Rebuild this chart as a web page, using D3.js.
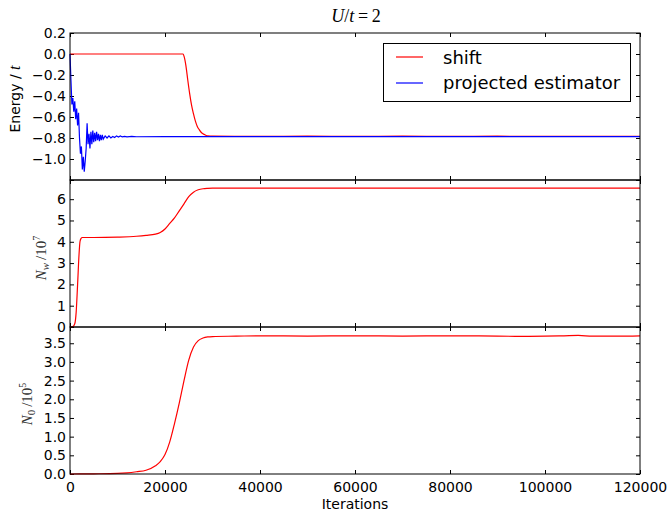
<!DOCTYPE html>
<html>
<head>
<meta charset="utf-8">
<script src="https://cdn.jsdelivr.net/npm/d3@7"></script>
<style>
  body { margin: 0; background: #fff; }
  svg text { font-family: "DejaVu Sans", sans-serif; }
  .math { font-family: "Liberation Serif", "DejaVu Serif", serif; }
</style>
</head>
<body>
<div id="chart"></div>
<script>
// values
const shiftIter = [0, 23800, 24000, 24400, 24800, 25200, 25600, 26000, 26400, 26800, 27200, 27600, 28000, 28500, 29000, 30000, 40000, 50000, 60000, 70000, 80000, 90000, 100000, 110000, 120000];
const shiftE = [0, 0, -0.02, -0.11, -0.25, -0.38, -0.49, -0.57, -0.64, -0.69, -0.72, -0.745, -0.76, -0.772, -0.78, -0.783, -0.784, -0.783, -0.784, -0.783, -0.784, -0.783, -0.784, -0.785, -0.784];

const projIter = [0, 200, 400, 600, 800, 1000, 1200, 1400, 1600, 1800, 2000, 2200, 2400, 2600, 2800, 3000, 3200, 3400, 3600, 3800, 4000, 4200, 4400, 4600, 4800, 5000, 5200, 5400, 5600, 5800, 6000, 6200, 6400, 6600, 6800, 7000, 7400, 7800, 8200, 8600, 9000, 9400, 9800, 10200, 10600, 11000, 11500, 12000, 13000, 14000, 20000, 30000, 40000, 60000, 80000, 100000, 120000];
const projE = [0, -0.25, -0.48, -0.42, -0.55, -0.45, -0.62, -0.52, -0.68, -0.56, -0.80, -0.95, -0.88, -1.10, -0.98, -1.12, -1.02, -0.90, -0.66, -0.86, -0.76, -0.90, -0.74, -0.86, -0.73, -0.84, -0.75, -0.83, -0.74, -0.82, -0.76, -0.83, -0.77, -0.82, -0.77, -0.81, -0.78, -0.80, -0.78, -0.80, -0.785, -0.795, -0.78, -0.79, -0.78, -0.79, -0.785, -0.79, -0.785, -0.788, -0.787, -0.787, -0.786, -0.787, -0.786, -0.787, -0.787];

const nwIter = [0, 600, 1000, 1300, 1600, 1900, 2100, 2300, 2600, 5000, 10000, 14000, 16000, 18000, 19000, 20000, 21000, 22000, 23000, 24000, 25000, 26000, 27000, 28000, 29000, 30000, 50000, 80000, 120000];
const nwVal = [0, 0.02, 0.15, 0.7, 2.0, 3.4, 4.0, 4.15, 4.2, 4.2, 4.22, 4.26, 4.3, 4.36, 4.44, 4.6, 4.86, 5.12, 5.45, 5.78, 6.12, 6.33, 6.44, 6.49, 6.51, 6.52, 6.52, 6.52, 6.52];

const n0Iter = [0, 5000, 10000, 12000, 14000, 16000, 18000, 19000, 20000, 21000, 22000, 23000, 24000, 25000, 26000, 27000, 28000, 29000, 30000, 35000, 40000, 50000, 60000, 70000, 80000, 90000, 95000, 100000, 104000, 107000, 110000, 115000, 120000];
const n0Val = [0, 0.005, 0.015, 0.03, 0.06, 0.1, 0.22, 0.33, 0.52, 0.86, 1.35, 1.9, 2.5, 3.05, 3.4, 3.57, 3.64, 3.67, 3.68, 3.69, 3.70, 3.69, 3.70, 3.69, 3.70, 3.69, 3.685, 3.69, 3.70, 3.71, 3.69, 3.69, 3.70];

const xTicks = [0, 20000, 40000, 60000, 80000, 100000, 120000];
const eTicks = [-1.2, -1.0, -0.8, -0.6, -0.4, -0.2, 0.0, 0.2];
const nwTicks = [0, 1, 2, 3, 4, 5, 6];
const n0Ticks = [0, 0.5, 1.0, 1.5, 2.0, 2.5, 3.0, 3.5];

const width = 672, height = 512;
const left = 70, right = 640;
const panelTops = [33, 180, 327, 474];

const svg = d3.select("#chart").append("svg")
  .attr("width", width).attr("height", height);

const x = d3.scaleLinear().domain([0, 120000]).range([left, right]);

function panel(i, domain, ticks, fmt, showX) {
  const top = panelTops[i], bottom = panelTops[i + 1];
  const y = d3.scaleLinear().domain(domain).range([bottom, top]);
  const g = svg.append("g");
  const tl = 4;
  g.append("g").attr("transform", `translate(${left},0)`)
    .call(d3.axisLeft(y).tickValues(ticks).tickSize(-tl).tickPadding(4).tickFormat(fmt));
  g.append("g").attr("transform", `translate(${right},0)`)
    .call(d3.axisRight(y).tickValues(ticks).tickSize(-tl).tickFormat(""));
  g.append("g").attr("transform", `translate(0,${top})`)
    .call(d3.axisTop(x).tickValues(xTicks).tickSize(-tl).tickFormat(""));
  g.append("g").attr("transform", `translate(0,${bottom})`)
    .call(d3.axisBottom(x).tickValues(xTicks).tickSize(-tl).tickPadding(8)
      .tickFormat(showX ? d3.format("d") : ""));
  g.selectAll(".domain").remove();
  g.selectAll(".tick line").attr("stroke", "#000");
  g.selectAll(".tick text").attr("font-size", 14).attr("fill", "#000")
    .attr("font-family", "DejaVu Sans");
  return {g, y, top, bottom};
}

function drawLine(p, xs, ys, color, curve) {
  const pts = xs.map((v, k) => [v, ys[k]]);
  p.g.append("path").datum(pts)
    .attr("fill", "none").attr("stroke", color).attr("stroke-width", 1.2)
    .attr("d", d3.line().x(d => x(d[0])).y(d => p.y(d[1])).curve(curve));
}

function frame(p) {
  p.g.append("rect").attr("x", left).attr("y", p.top)
    .attr("width", right - left).attr("height", p.bottom - p.top)
    .attr("fill", "none").attr("stroke", "#000").attr("stroke-width", 1);
}

// energy panel
const eFmt = d => (Math.abs(d + 1.2) < 1e-9 ? "" : d3.format(".1f")(d));
const p1 = panel(0, [-1.2, 0.2], eTicks, eFmt, false);
drawLine(p1, shiftIter, shiftE, "#ff0000", d3.curveMonotoneX);
drawLine(p1, projIter, projE, "#0000ff", d3.curveLinear);
frame(p1);

// walkers panel
const p2 = panel(1, [0, 6.9], nwTicks, d3.format("d"), false);
drawLine(p2, nwIter, nwVal, "#ff0000", d3.curveMonotoneX);
frame(p2);

// reference population panel
const p3 = panel(2, [0, 3.935], n0Ticks, d3.format(".1f"), true);
drawLine(p3, n0Iter, n0Val, "#ff0000", d3.curveMonotoneX);
frame(p3);

// legend
const lg = svg.append("g");
lg.append("rect").attr("x", 383.5).attr("y", 43.5).attr("width", 247).attr("height", 58)
  .attr("fill", "#fff").attr("stroke", "#000");
[["shift", "#ff0000", 57, 63.5], ["projected estimator", "#0000ff", 83, 89]].forEach(([t, c, yy, by]) => {
  lg.append("line").attr("x1", 396).attr("x2", 423).attr("y1", yy).attr("y2", yy)
    .attr("stroke", c).attr("stroke-width", 1.2);
  lg.append("text").attr("x", 443).attr("y", by).attr("font-size", 18).text(t);
});

// title
const title = svg.append("text").attr("class", "math").attr("x", 356).attr("y", 22)
  .attr("text-anchor", "middle").attr("font-size", 18);
title.append("tspan").attr("font-style", "italic").text("U");
title.append("tspan").text("/");
title.append("tspan").attr("font-style", "italic").text("t");
title.append("tspan").text("\u2009=\u20092");

// y labels
const yl1 = svg.append("text").attr("transform", "translate(20,99) rotate(-90)")
  .attr("text-anchor", "middle").attr("font-size", 14);
yl1.append("tspan").text("Energy / ");
yl1.append("tspan").attr("class", "math").attr("font-style", "italic").attr("font-size", 16).text("t");

const yl2 = svg.append("text").attr("class", "math").attr("transform", "translate(46,258) rotate(-90)")
  .attr("text-anchor", "middle").attr("font-size", 15).attr("fill", "#333");
yl2.append("tspan").attr("font-style", "italic").text("N");
yl2.append("tspan").attr("font-style", "italic").attr("font-size", 11).attr("dy", 3).text("w");
yl2.append("tspan").attr("dy", -3).text("\u2009/10");
yl2.append("tspan").attr("font-size", 10).attr("dy", -6).text("7");

const yl3 = svg.append("text").attr("class", "math").attr("transform", "translate(32,404) rotate(-90)")
  .attr("text-anchor", "middle").attr("font-size", 15).attr("fill", "#333");
yl3.append("tspan").attr("font-style", "italic").text("N");
yl3.append("tspan").attr("font-size", 11).attr("dy", 3).text("0");
yl3.append("tspan").attr("dy", -3).text("\u2009/10");
yl3.append("tspan").attr("font-size", 10).attr("dy", -6).text("5");

// x label
svg.append("text").attr("x", 355).attr("y", 509).attr("text-anchor", "middle")
  .attr("font-size", 14).text("Iterations");
</script>
</body>
</html>
